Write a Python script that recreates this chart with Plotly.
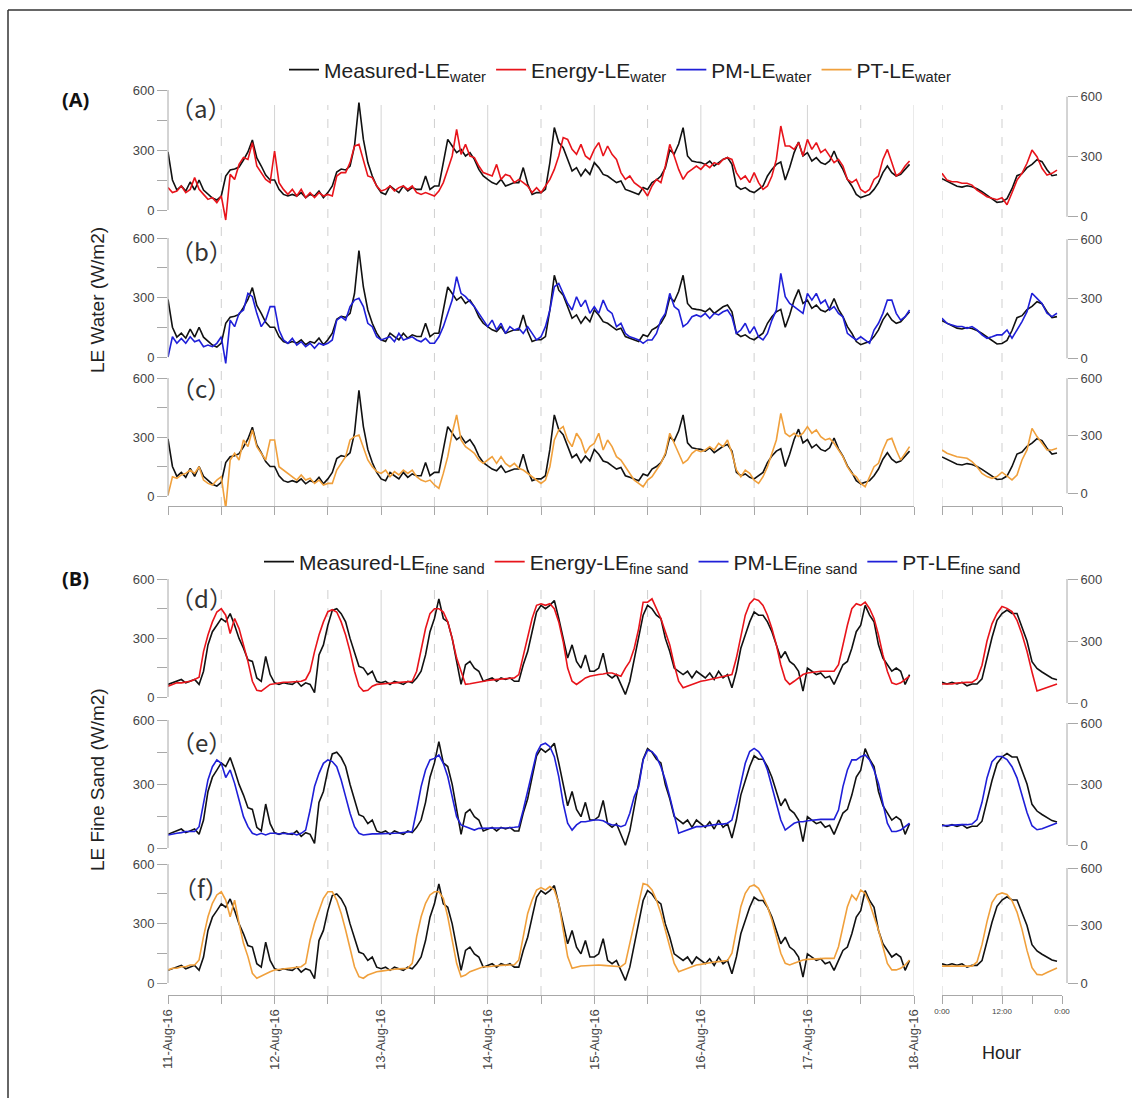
import plotly.graph_objects as go

W, H = 1132, 1098

# ---------------- data (hourly, 11-Aug-16 00:00 .. 17-Aug-16 23:00) ----------------
day_labels = ["11-Aug-16", "12-Aug-16", "13-Aug-16", "14-Aug-16", "15-Aug-16",
              "16-Aug-16", "17-Aug-16", "18-Aug-16"]
hour_labels = ["0:00", "", "12:00", "", "0:00"]

measured_water = [
    290, 150, 100, 120, 95, 140, 100, 150, 100, 80, 60, 50, 70, 170, 200, 205, 215, 250, 290, 350, 260, 220, 175, 150,
    150, 103, 78, 70, 78, 70, 87, 62, 78, 70, 95, 62, 87, 120, 190, 205, 200, 220, 320, 537, 353, 237, 170, 120,
    87, 78, 120, 103, 87, 120, 95, 112, 103, 103, 170, 103, 120, 120, 237, 353, 320, 287, 303, 270, 287, 253, 203, 170,
    153, 137, 128, 153, 120, 128, 137, 137, 212, 130, 78, 87, 87, 103, 237, 412, 337, 312, 253, 195, 212, 170, 203, 178,
    237, 212, 178, 170, 153, 137, 145, 103, 95, 87, 78, 112, 103, 137, 150, 170, 210, 300, 280, 330, 412, 270, 245, 240,
    237, 228, 245, 220, 237, 253, 262, 228, 120, 103, 112, 95, 87, 103, 120, 170, 203, 228, 240, 150, 212, 287, 340, 270,
    287, 245, 262, 237, 228, 245, 295, 240, 203, 153, 120, 78, 62, 70, 78, 103, 137, 187, 220, 187, 170, 178, 203, 228,
]
energy_water = [
    112, 87, 95, 120, 87, 103, 162, 103, 78, 53, 62, 37, 70, -50, 178, 153, 228, 262, 253, 337, 220, 187, 153, 137,
    295, 137, 103, 78, 103, 70, 103, 62, 87, 62, 87, 70, 78, 70, 170, 187, 187, 237, 320, 328, 253, 170, 162, 120,
    95, 103, 120, 95, 112, 120, 103, 120, 87, 78, 87, 78, 70, 95, 137, 203, 270, 403, 278, 328, 270, 262, 220, 187,
    178, 170, 228, 153, 178, 170, 137, 153, 137, 120, 87, 112, 87, 120, 153, 203, 270, 362, 353, 303, 278, 328, 270, 253,
    303, 337, 270, 320, 278, 253, 187, 153, 170, 137, 120, 103, 70, 120, 153, 137, 220, 328, 270, 203, 153, 187, 203, 220,
    203, 228, 212, 237, 228, 253, 262, 253, 187, 153, 170, 137, 187, 137, 103, 120, 170, 253, 420, 320, 320, 303, 337, 270,
    353, 303, 337, 287, 303, 270, 237, 253, 220, 153, 137, 153, 103, 87, 103, 153, 170, 253, 303, 237, 170, 187, 220, 245,
]
pm_water = [
    0, 102, 69, 94, 69, 102, 77, 86, 52, 60, 52, 69, 102, -32, 186, 153, 220, 237, 321, 304, 220, 153, 186, 254,
    254, 136, 86, 69, 94, 60, 77, 52, 69, 44, 69, 60, 69, 86, 186, 203, 186, 254, 287, 296, 254, 170, 153, 102,
    86, 94, 102, 77, 119, 86, 94, 102, 86, 77, 94, 69, 69, 102, 153, 220, 287, 405, 321, 304, 279, 254, 220, 186,
    153, 186, 136, 170, 119, 153, 136, 145, 119, 153, 119, 86, 102, 153, 237, 354, 371, 321, 270, 237, 304, 254, 287, 220,
    254, 220, 287, 237, 220, 153, 170, 119, 102, 94, 86, 69, 86, 86, 119, 186, 220, 321, 254, 237, 153, 170, 203, 212,
    203, 220, 195, 220, 212, 228, 237, 203, 119, 136, 170, 119, 153, 102, 86, 119, 186, 237, 422, 304, 270, 254, 237, 220,
    321, 287, 321, 270, 287, 237, 254, 220, 203, 119, 102, 86, 102, 86, 69, 136, 170, 220, 287, 287, 220, 186, 203, 237,
]
pt_water = [
    5, 98, 90, 107, 115, 132, 115, 149, 81, 64, 56, 81, 98, -63, 183, 217, 183, 285, 251, 336, 251, 217, 183, 285,
    285, 149, 132, 115, 98, 81, 107, 81, 90, 64, 81, 56, 64, 64, 132, 166, 200, 285, 302, 310, 251, 183, 149, 124,
    115, 132, 98, 124, 107, 132, 115, 132, 98, 81, 73, 81, 56, 39, 115, 200, 319, 412, 285, 251, 234, 217, 183, 166,
    183, 200, 166, 200, 166, 149, 166, 141, 132, 115, 98, 81, 64, 81, 149, 285, 336, 353, 285, 251, 319, 285, 217, 251,
    268, 319, 234, 285, 251, 200, 183, 149, 115, 81, 64, 47, 81, 98, 132, 166, 217, 319, 268, 217, 166, 183, 217, 234,
    225, 234, 251, 234, 268, 251, 285, 217, 132, 98, 132, 115, 81, 64, 98, 149, 217, 285, 420, 319, 302, 319, 302, 319,
    353, 319, 336, 302, 285, 293, 268, 234, 200, 149, 115, 98, 64, 47, 98, 149, 166, 234, 285, 293, 234, 183, 217, 251,
]
measured_sand = [
    64, 72, 80, 89, 72, 80, 89, 64, 131, 265, 332, 365, 399, 382, 424, 365, 298, 248, 189, 181, 97, 80, 206, 114,
    72, 64, 72, 67, 64, 80, 55, 72, 64, 22, 214, 265, 365, 441, 449, 424, 382, 298, 223, 156, 147, 114, 131, 80,
    72, 80, 64, 80, 72, 64, 80, 72, 97, 131, 214, 332, 399, 499, 399, 382, 298, 181, 64, 164, 181, 147, 131, 80,
    89, 97, 80, 97, 89, 97, 80, 80, 164, 231, 332, 432, 466, 449, 466, 491, 399, 298, 198, 265, 181, 147, 214, 131,
    131, 147, 223, 114, 97, 114, 64, 13, 80, 198, 298, 416, 466, 449, 416, 399, 298, 231, 147, 131, 114, 131, 97, 131,
    114, 97, 122, 89, 131, 97, 114, 47, 131, 248, 315, 382, 432, 416, 416, 382, 332, 265, 198, 231, 181, 164, 131, 30,
    147, 131, 114, 122, 97, 106, 64, 114, 164, 181, 248, 332, 365, 466, 416, 382, 265, 198, 164, 131, 147, 131, 64, 114,
]
energy_sand = [
    55, 64, 72, 72, 77, 80, 89, 100, 231, 315, 382, 432, 449, 416, 323, 399, 348, 265, 181, 80, 34, 30, 47, 64,
    67, 72, 75, 75, 77, 80, 80, 89, 131, 231, 315, 382, 434, 444, 432, 382, 315, 231, 131, 55, 30, 34, 55, 64,
    67, 69, 70, 72, 74, 75, 77, 80, 131, 248, 348, 424, 449, 449, 432, 382, 298, 198, 131, 64, 67, 72, 77, 80,
    84, 87, 89, 91, 92, 94, 97, 114, 214, 315, 399, 466, 474, 466, 474, 449, 382, 281, 147, 80, 64, 80, 97, 106,
    111, 114, 117, 122, 122, 114, 106, 147, 181, 248, 348, 482, 482, 499, 449, 399, 332, 265, 164, 80, 47, 55, 64, 72,
    80, 84, 89, 94, 97, 101, 106, 114, 198, 315, 416, 474, 499, 491, 466, 416, 348, 265, 164, 89, 64, 80, 97, 114,
    122, 126, 127, 131, 131, 131, 131, 164, 265, 365, 449, 474, 466, 482, 449, 399, 315, 214, 131, 72, 64, 72, 89, 106,
]
pm_sand = [
    61, 66, 69, 72, 77, 77, 77, 100, 209, 319, 381, 413, 397, 330, 366, 303, 225, 147, 100, 69, 61, 69, 61, 69,
    69, 66, 69, 66, 69, 61, 69, 84, 178, 288, 350, 397, 413, 405, 381, 319, 241, 163, 100, 69, 61, 64, 66, 66,
    66, 69, 69, 69, 70, 72, 72, 77, 178, 288, 366, 413, 420, 436, 397, 335, 241, 147, 108, 100, 92, 84, 92, 92,
    92, 92, 94, 94, 95, 95, 97, 100, 178, 272, 366, 444, 483, 491, 475, 428, 335, 209, 116, 84, 108, 123, 123, 128,
    131, 131, 128, 116, 108, 108, 100, 108, 163, 241, 288, 413, 459, 452, 428, 381, 319, 241, 147, 69, 77, 84, 92, 100,
    100, 103, 108, 108, 112, 112, 116, 131, 209, 303, 397, 452, 467, 452, 420, 366, 288, 209, 131, 84, 100, 116, 123, 123,
    128, 131, 131, 134, 134, 134, 134, 178, 288, 366, 413, 413, 428, 436, 413, 366, 303, 209, 116, 77, 77, 84, 100, 116,
]
pt_sand = [
    66, 74, 74, 82, 82, 91, 91, 116, 234, 334, 402, 444, 460, 418, 334, 418, 301, 200, 133, 49, 24, 35, 49, 57,
    66, 69, 72, 74, 77, 79, 82, 99, 217, 301, 368, 427, 460, 460, 418, 351, 267, 166, 82, 32, 24, 40, 49, 57,
    60, 64, 66, 69, 71, 72, 74, 99, 234, 334, 402, 444, 460, 460, 427, 334, 217, 99, 32, 40, 57, 66, 74, 82,
    82, 86, 87, 89, 91, 91, 92, 116, 234, 351, 418, 469, 481, 469, 486, 469, 402, 267, 133, 74, 82, 86, 87, 89,
    91, 91, 89, 87, 86, 82, 82, 99, 200, 301, 402, 502, 494, 469, 418, 351, 267, 183, 99, 57, 66, 74, 82, 91,
    94, 99, 102, 106, 108, 111, 113, 150, 267, 385, 452, 486, 494, 477, 435, 385, 318, 234, 150, 99, 91, 99, 108, 116,
    119, 121, 123, 124, 124, 124, 124, 183, 284, 385, 444, 418, 469, 452, 402, 334, 267, 183, 99, 66, 66, 74, 91, 116,
]

# diurnal (hour-of-day) averages for the right-hand panels
hour_measured_water = [190, 178, 162, 152, 148, 155, 150, 140, 125, 108, 90, 72, 75, 90, 140, 205, 215, 245, 262, 285, 275, 235, 205, 210]
hour_energy_water = [217, 183, 175, 175, 167, 167, 158, 133, 117, 100, 92, 85, 95, 60, 120, 183, 217, 267, 333, 300, 242, 208, 217, 233]
hour_pm_water = [202, 176, 168, 160, 160, 151, 160, 143, 118, 101, 109, 118, 118, 143, 101, 143, 185, 235, 328, 302, 277, 227, 210, 227]
hour_pt_water = [226, 209, 200, 191, 187, 183, 165, 139, 104, 87, 78, 87, 110, 90, 70, 95, 174, 226, 339, 296, 261, 226, 226, 235]
hour_measured_sand = [100, 92, 100, 92, 100, 83, 92, 92, 117, 217, 317, 400, 433, 450, 433, 433, 367, 300, 200, 167, 150, 133, 120, 113]
hour_energy_sand = [92, 92, 92, 97, 100, 100, 100, 117, 183, 300, 383, 433, 467, 458, 442, 400, 333, 250, 150, 58, 67, 75, 83, 92]
hour_pm_sand = [95, 97, 97, 98, 100, 100, 103, 125, 210, 330, 410, 435, 435, 420, 385, 330, 250, 160, 95, 75, 80, 90, 100, 108]
hour_pt_sand = [88, 88, 86, 86, 85, 85, 88, 110, 200, 320, 420, 460, 470, 462, 430, 370, 280, 170, 80, 45, 42, 55, 68, 78]

t_main = list(range(len(measured_water)))       # hours since 11-Aug-16 00:00
t_day = list(range(len(hour_measured_water)))   # hour of day

# ---------------- styling ----------------
BLACK, RED, BLUE, ORANGE = "#111111", "#e8141b", "#1f1fd8", "#f0a03c"
AX = "#a8a8a8"
FONT = "Liberation Sans"
LW = 1.6


def fx(p):
    return p / W


def fy(p):
    return 1 - p / H


def dom(top, bot):
    return [1 - bot / H, 1 - top / H]


def yrange(top, bot, zero, six):
    s = (zero - six) / 600.0
    return [(zero - bot) / s, (zero - top) / s]


# panel geometry (pixels): top, bottom, y(0), y(600)
left_panels = [(80, 225, 210, 90), (225, 368, 357, 238), (368, 506, 496, 378),
               (570, 710, 697, 579), (710, 855, 848, 720), (855, 995, 983, 864)]
right_panels = [(80, 225, 216.7, 96.7), (225, 368, 358.3, 239.3), (368, 506, 493.3, 378.3),
                (570, 710, 703, 579), (710, 855, 845, 723), (855, 995, 983, 868)]

fig = go.Figure()


def add(x, y, color, xa, ya, name=None, legend=None, show=False):
    fig.add_trace(go.Scatter(x=x, y=y, mode="lines", line=dict(color=color, width=LW),
                             xaxis=xa, yaxis=ya, name=name, showlegend=show,
                             legend=legend if legend else "legend", hoverinfo="skip"))


# group A (water)
add(t_main, measured_water, BLACK, "x", "y", "Measured-LE<sub>water</sub>", "legend", True)
add(t_main, energy_water, RED, "x", "y", "Energy-LE<sub>water</sub>", "legend", True)
add(t_main, measured_water, BLACK, "x", "y2")
add(t_main, pm_water, BLUE, "x", "y2", "PM-LE<sub>water</sub>", "legend", True)
add(t_main, measured_water, BLACK, "x", "y3")
add(t_main, pt_water, ORANGE, "x", "y3", "PT-LE<sub>water</sub>", "legend", True)
add(t_day, hour_measured_water, BLACK, "x3", "y7")
add(t_day, hour_energy_water, RED, "x3", "y7")
add(t_day, hour_measured_water, BLACK, "x3", "y8")
add(t_day, hour_pm_water, BLUE, "x3", "y8")
add(t_day, hour_measured_water, BLACK, "x3", "y9")
add(t_day, hour_pt_water, ORANGE, "x3", "y9")

# group B (fine sand)
add(t_main, measured_sand, BLACK, "x2", "y4", "Measured-LE<sub>fine sand</sub>", "legend2", True)
add(t_main, energy_sand, RED, "x2", "y4", "Energy-LE<sub>fine sand</sub>", "legend2", True)
add(t_main, measured_sand, BLACK, "x2", "y5")
add(t_main, pm_sand, BLUE, "x2", "y5", "PM-LE<sub>fine sand</sub>", "legend2", True)
add(t_main, measured_sand, BLACK, "x2", "y6")
add(t_main, pt_sand, ORANGE, "x2", "y6")
add([None], [None], BLUE, "x2", "y6", "PT-LE<sub>fine sand</sub>", "legend2", True)
add(t_day, hour_measured_sand, BLACK, "x4", "y10")
add(t_day, hour_energy_sand, RED, "x4", "y10")
add(t_day, hour_measured_sand, BLACK, "x4", "y11")
add(t_day, hour_pm_sand, BLUE, "x4", "y11")
add(t_day, hour_measured_sand, BLACK, "x4", "y12")
add(t_day, hour_pt_sand, ORANGE, "x4", "y12")

tickfont = dict(family=FONT, size=13, color="#444")
legfont = dict(family=FONT, size=21, color="#222")
layout = dict(
    width=W, height=H, margin=dict(l=0, r=0, t=0, b=0, autoexpand=False),
    paper_bgcolor="white", plot_bgcolor="rgba(0,0,0,0)",
    font=dict(family=FONT, color="#222"),
    legend=dict(orientation="h", x=fx(284), y=fy(70), xanchor="left", yanchor="middle",
                font=legfont, bgcolor="rgba(0,0,0,0)", itemwidth=30, tracegroupgap=0),
    legend2=dict(orientation="h", x=fx(259), y=fy(562), xanchor="left", yanchor="middle",
                 font=legfont, bgcolor="rgba(0,0,0,0)", itemwidth=30, tracegroupgap=0),
)

main_ticks = list(range(0, 169, 12))
main_text = []
for v in main_ticks:
    main_text.append(day_labels[v // 24] if v % 24 == 0 else "")

xmain = dict(domain=[fx(168), fx(914)], range=[0, 168], showline=True, linecolor=AX, linewidth=1,
             ticks="outside", ticklen=8, tickcolor=AX, tickvals=main_ticks, ticktext=main_text,
             showgrid=False, zeroline=False, tickfont=tickfont, tickangle=-90, automargin=False)
layout["xaxis"] = dict(xmain, anchor="y3", showticklabels=False)
layout["xaxis2"] = dict(xmain, anchor="y6", showticklabels=True)
xright = dict(domain=[fx(942), fx(1062)], range=[0, 24], showline=True, linecolor=AX, linewidth=1,
              ticks="outside", ticklen=8, tickcolor=AX, tickvals=[0, 6, 12, 18, 24], ticktext=hour_labels,
              showgrid=False, zeroline=False, tickfont=dict(family=FONT, size=8, color="#444"), tickangle=0,
              automargin=False)
layout["xaxis3"] = dict(xright, anchor="y9", showticklabels=False)
layout["xaxis4"] = dict(xright, anchor="y12", showticklabels=True)

for i, (top, bot, zero, six) in enumerate(left_panels):
    name = "yaxis" if i == 0 else "yaxis%d" % (i + 1)
    layout[name] = dict(domain=dom(top, bot), range=yrange(top, bot, zero, six),
                        anchor="x" if i < 3 else "x2", showline=False, showgrid=False, zeroline=False,
                        ticks="outside", ticklen=10, tickcolor=AX, tickvals=[0, 150, 300, 450, 600],
                        ticktext=["0", "", "300", "", "600"], tickfont=tickfont, automargin=False)
for i, (top, bot, zero, six) in enumerate(right_panels):
    name = "yaxis%d" % (i + 7)
    layout[name] = dict(domain=dom(top, bot), range=yrange(top, bot, zero, six),
                        anchor="free", position=fx(1067), side="right",
                        showline=False, showgrid=False, zeroline=False,
                        ticks="outside", ticklen=10, tickcolor=AX, tickvals=[0, 300, 600],
                        ticktext=["0", "300", "600"], tickfont=tickfont, automargin=False)

shapes = []
# vertical grid lines (days solid, noons dashed) spanning each group
for (gtop, gbot) in [(105, 506), (590, 995)]:
    for v in range(12, 169, 12):
        solid = v % 24 == 0
        shapes.append(dict(type="line", xref="x", yref="paper", x0=v, x1=v, y0=fy(gbot), y1=fy(gtop),
                           line=dict(color="#d4d4d4" if solid else "#cfcfcf", width=1,
                                     dash="solid" if solid else "dash"), layer="below"))
    for v in (0, 12):
        shapes.append(dict(type="line", xref="x3", yref="paper", x0=v, x1=v, y0=fy(gbot), y1=fy(gtop),
                           line=dict(color="#cfcfcf", width=1, dash="dash"), layer="below"))
# y-axis lines spanning 0..600
for i in range(6):
    ya = "y" if i == 0 else "y%d" % (i + 1)
    shapes.append(dict(type="line", xref="paper", yref=ya, x0=fx(168), x1=fx(168), y0=0, y1=600,
                       line=dict(color=AX, width=1)))
    shapes.append(dict(type="line", xref="paper", yref="y%d" % (i + 7), x0=fx(1067), x1=fx(1067),
                       y0=0, y1=600, line=dict(color=AX, width=1)))
# outer frame (left and top edge)
shapes.append(dict(type="line", xref="paper", yref="paper", x0=fx(8), x1=fx(8), y0=0, y1=fy(10),
                   line=dict(color="#333", width=1.5)))
shapes.append(dict(type="line", xref="paper", yref="paper", x0=fx(8), x1=1, y0=fy(10), y1=fy(10),
                   line=dict(color="#333", width=1.5)))
layout["shapes"] = shapes

ann = []
for lab, ypx in [("a", 107), ("b", 250), ("c", 387), ("d", 597), ("e", 741), ("f", 887)]:
    ann.append(dict(text="（%s）" % lab, x=fx(201), y=fy(ypx), xref="paper", yref="paper",
                    xanchor="center", yanchor="middle",
                    showarrow=False, font=dict(family="Noto Sans CJK SC", size=24, color="#333")))
ann.append(dict(text="<b>(A)</b>", x=fx(75), y=fy(100), xref="paper", yref="paper", showarrow=False,
                xanchor="center", yanchor="middle", font=dict(family="Open Sans", size=20, color="#111")))
ann.append(dict(text="<b>(B)</b>", x=fx(75), y=fy(578), xref="paper", yref="paper", showarrow=False,
                xanchor="center", yanchor="middle", font=dict(family="Open Sans", size=20, color="#111")))
ann.append(dict(text="LE Water (W/m2)", x=fx(97), y=fy(300), xref="paper", yref="paper", showarrow=False,
                xanchor="center", yanchor="middle",
                textangle=-90, font=dict(family=FONT, size=19, color="#222")))
ann.append(dict(text="LE Fine Sand (W/m2)", x=fx(97), y=fy(780), xref="paper", yref="paper", showarrow=False,
                xanchor="center", yanchor="middle",
                textangle=-90, font=dict(family=FONT, size=19, color="#222")))
ann.append(dict(text="Hour", x=fx(1001), y=fy(1053), xref="paper", yref="paper", showarrow=False,
                xanchor="center", yanchor="middle", font=dict(family=FONT, size=18, color="#222")))
layout["annotations"] = ann

fig.update_layout(**layout)
fig.write_html("out.html")
